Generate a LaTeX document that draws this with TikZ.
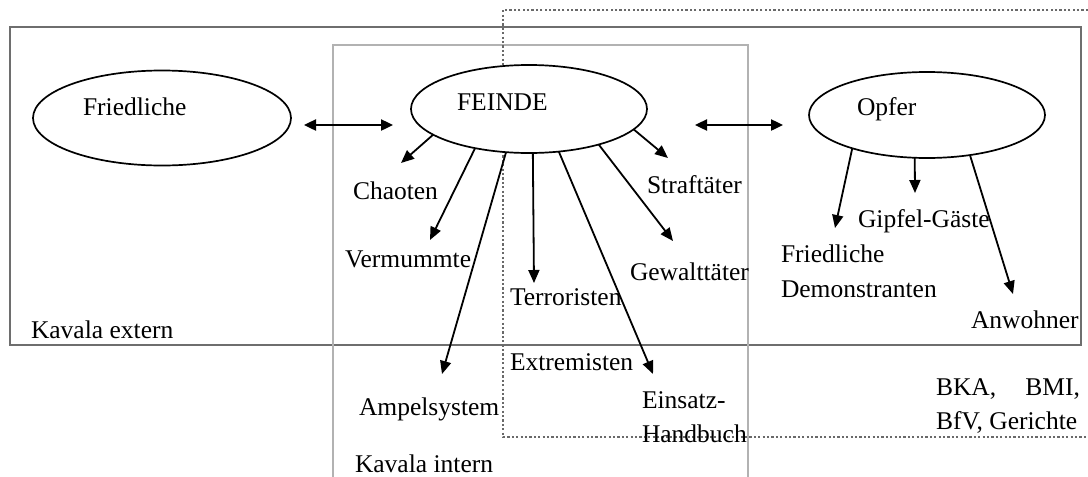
\documentclass[tikz,border=0pt]{standalone}
\usepackage{fontspec}
\setmainfont{Liberation Serif}
\usetikzlibrary{shapes.geometric,arrows.meta}
\definecolor{outergray}{RGB}{110,110,110}
\definecolor{innergray}{RGB}{178,178,178}
\definecolor{dotgray}{RGB}{105,105,105}
\begin{document}
\begin{tikzpicture}[x=1pt,y=-1pt,
  ell/.style={ellipse,draw=black,fill=white,line width=1.7pt,inner sep=0pt,outer sep=0pt},
  lbl/.style={anchor=base west,inner sep=0pt,outer sep=0pt,font=\fontsize{25.5}{34}\selectfont},
  arr/.style={line width=1.8pt,-{Triangle[length=13pt,width=11pt]}},
  dbl/.style={line width=2.4pt,{Triangle[length=12pt,width=11pt]}-{Triangle[length=12pt,width=11pt]}},
  outerbox/.style={draw=outergray,line width=2.7pt},
  innerbox/.style={draw=innergray,line width=2.7pt},
  dotbox/.style={draw=dotgray,line width=2.8pt,dash pattern=on 2.2pt off 2.2pt}
]
\useasboundingbox (0,0) rectangle (1088,477);

% boxes
\draw[outerbox] (10,27) rectangle (1081,345);
\draw[innerbox] (333,480) -- (333,45) -- (748,45) -- (748,480);
\draw[dotbox] (1088,10) -- (503,10) -- (503,437) -- (1088,437);

% ellipses
\node[ell,minimum width=258pt,minimum height=95pt] (fr) at (162,118) {};
\node[ell,minimum width=236pt,minimum height=88pt] (fe) at (529,109) {};
\node[ell,minimum width=236pt,minimum height=86pt] (op) at (927,115) {};

\node[lbl] (frT) at (83,115) {Friedliche};
\node[lbl] (feT) at (457,110) {FEINDE};
\node[lbl] (opT) at (857,115) {Opfer};

% double arrows
\draw[dbl] ([shift={(13,7)}]fr.east) -- ([shift={(-18,16)}]fe.west);
\draw[dbl] ([shift={(48,16)}]fe.east) -- ([shift={(-26,10)}]op.west);

% labels
\node[lbl] (chaoten) at (353,199) {Chaoten};
\node[lbl] (verm) at (345,267) {Vermummte};
\node[lbl] (ampel) at (359,415) {Ampelsystem};
\node[lbl] (terr) at (510,305) {Terroristen};
\node[lbl] (extr) at (510,370) {Extremisten};
\node[lbl] (straf) at (647,193) {Straftäter};
\node[lbl] (gewalt) at (630,280) {Gewalttäter};
\node[lbl] (einsatz) at (642,408) {Einsatz-};
\node[lbl] (handbuch) at (642,442) {Handbuch};
\node[lbl] (gipfel) at (858,227) {Gipfel-Gäste};
\node[lbl] (fried2) at (781,262) {Friedliche};
\node[lbl] (demo) at (781,297) {Demonstranten};
\node[lbl] (anw) at (971,328) {Anwohner};
\node[lbl] (kext) at (31,338) {Kavala extern};
\node[lbl] (kint) at (355,472) {Kavala intern};
\node[lbl] (bka) at (936,395) {\makebox[144pt][s]{BKA,\hfill BMI,}};
\node[lbl] (bfv) at (936,429) {BfV, Gerichte};

% arrow tips
\coordinate (tChaoten) at (401,163);
\coordinate (tVerm) at (430,240);
\coordinate (tAmpel) at (442,374);
\coordinate (tTerr) at (534,283);
\coordinate (tEinsatz) at (653,374);
\coordinate (tGewalt) at (673,241);
\coordinate (tStraf) at (668,158);
\coordinate (tDemo) at (835,228);
\coordinate (tGipfel) at (915,193);
\coordinate (tAnw) at (1013,294);

\draw[arr] (fe.195) -- (tChaoten);
\draw[arr] (fe.216.7) -- (tVerm);
\draw[arr] (fe.242.9) -- (tAmpel);
\draw[arr] (fe.275) -- (tTerr);
\draw[arr] (fe.305.3) -- (tEinsatz);
\draw[arr] (fe.333.8) -- (tGewalt);
\draw[arr] (fe.349.5) -- (tStraf);
\draw[arr] (op.204.7) -- (tDemo);
\draw[arr] (op.254.3) -- (tGipfel);
\draw[arr] (op.317) -- (tAnw);
\end{tikzpicture}
\end{document}
